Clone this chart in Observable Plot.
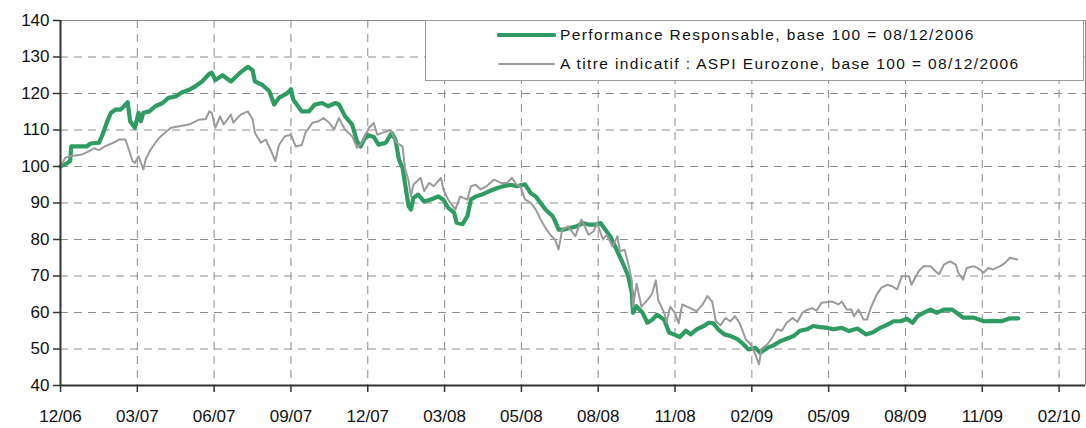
<!DOCTYPE html>
<html>
<head>
<meta charset="utf-8">
<script src="https://cdn.jsdelivr.net/npm/d3@7"></script>
<script src="https://cdn.jsdelivr.net/npm/@observablehq/plot@0.6"></script>
<style>
  html, body { margin: 0; padding: 0; background: #fff; }
  #wrap { position: relative; width: 1086px; height: 428px; font-family: "Liberation Sans", Arial, sans-serif; }
  #legend { position: absolute; left: 425px; top: 20px; width: 659px; height: 61px; background: #fff;
            border: 1px solid #9a9a9a; box-sizing: border-box; }
  .row { position: absolute; left: 71px; height: 20px; display: flex; align-items: center; font-size: 15.5px; color: #111; letter-spacing: 1.38px; white-space: nowrap; }
  .sw { width: 59px; margin-right: 4px; }
</style>
</head>
<body>
<div id="wrap"></div>
<script>
// x tick labels (one every 64 observations)
const tickLabels = ["12/06","03/07","06/07","09/07","12/07","03/08","05/08","08/08","11/08","02/09","05/09","08/09","11/09","02/10"];
const obsPerTick = 64;
const lastObs = 854;

// Performance Responsable, base 100 = 08/12/2006  (observation index, value)
const perfIdx = [0,6,8,9,22,25,32,35,39,42,46,50,53,56,58,62,65,67,69,74,79,85,90,96,101,107,112,118,124,126,129,135,142,149,156,160,162,168,174,178,182,189,192,194,201,207,212,218,223,229,232,237,243,247,250,255,261,265,271,276,279,282,285,287,290,292,294,298,303,308,315,319,323,328,330,335,339,342,346,351,357,364,369,375,380,387,392,396,400,404,410,412,415,419,425,430,435,440,446,450,454,458,462,468,473,476,477,480,485,489,493,497,503,507,511,516,521,525,530,536,540,544,548,553,558,564,569,573,579,583,589,594,600,605,611,616,622,627,633,639,644,651,657,664,671,677,683,689,694,700,705,710,714,719,725,730,736,743,748,752,761,769,777,784,791,798];
const perfVal = [100,101,101.5,105.5,105.5,106.3,106.5,108.7,112.4,114.7,115.6,115.6,116.5,117.6,112.4,110.6,114.7,112.4,114.7,115.1,116.5,117.4,118.8,119.2,120.3,121,121.9,123.3,125.4,125.7,123.7,125,123.3,125.5,127.3,126.4,123.3,122.4,120.6,117,118.8,120.1,121.2,118.3,115.1,115.1,117,117.4,116.5,117.4,117,113.8,111.5,106.9,105.5,108.7,108.1,106,106.5,109.2,107.4,101.9,99.6,95.5,89.1,88.2,91.4,92.3,90.4,90.9,91.8,90.9,88.7,87.3,84.6,84.2,86.4,91,91.8,92.3,93.2,94.1,94.6,95,94.6,95.1,92.6,91.8,90,88.2,86.4,85.1,82.7,82.7,83.2,83.6,84.5,84.1,84.1,84.5,82.7,80.9,78.1,73.9,70,65.4,59.9,61.7,59.9,57.2,58,59.4,58,54.5,54,53.3,55,54,55.4,56.3,57.2,57,55.4,54,53.6,52.7,51.3,49.9,50.3,49,50.3,51,52.2,52.8,53.6,55,55.4,56.3,56,55.8,55.4,55.8,54.9,55.6,54,54.6,55.8,56.7,57.6,57.6,58.3,57.2,59,59.9,60.8,59.9,60.8,60.8,59.6,58.6,58.6,57.6,57.7,57.6,58.4,58.4];

// A titre indicatif : ASPI Eurozone, base 100 = 08/12/2006
const aspiIdx = [0,4,8,12,18,24,28,32,37,44,49,54,57,60,62,65,69,71,75,81,85,92,99,107,115,121,124,126,129,133,136,142,144,150,156,160,162,167,171,175,179,182,187,192,196,201,204,210,215,219,224,228,232,237,243,247,251,257,261,264,268,275,280,285,287,290,292,294,300,303,307,311,317,319,323,329,333,339,342,346,350,355,361,367,372,376,380,383,387,392,396,400,404,408,412,415,418,423,429,434,440,444,447,452,455,460,464,466,470,473,476,477,480,484,489,493,496,498,503,505,508,512,515,518,522,526,530,535,539,543,546,550,554,558,562,566,571,575,579,582,584,589,593,597,601,605,610,614,618,622,626,630,634,643,648,651,655,659,661,665,669,672,675,680,684,689,693,697,701,707,709,715,719,725,729,732,736,741,746,748,752,755,761,766,769,773,777,783,787,791,797];
const aspiVal = [100,102.4,102.8,103,103.3,104.2,105,104.5,105.5,106.5,107.4,107.4,104.6,101.5,101,102.8,99.2,102,104.6,107.4,108.7,110.6,111,111.5,112.8,113,115.1,114.7,110.6,113.7,111.5,114.2,112,114.2,115.1,113,109.2,106.5,107.4,104.6,101.5,105.9,108.3,108.7,105.5,105.9,109.2,112,112.4,113.3,112,110.1,113.3,110.1,108.3,105.1,106.5,110.6,111.9,108.7,109.2,110,106.5,105.5,99.6,96,91.8,95,96.9,93.2,95.5,94.6,96.9,93.7,90.9,88.2,91.8,90.9,94.6,95,93.7,94.6,96.4,95.5,95.5,96.9,95,94.7,91,90,88.2,85.5,83.2,81.3,80,77.3,82.7,83.6,80.9,85.5,81.3,82.2,84.5,80,81.3,78.1,80.9,76.8,77.2,73.4,68.8,61.6,67.9,61.6,63.4,65.2,68.8,63.4,59.9,57.4,61.6,59.9,57,62.2,61.6,61,60.3,62.2,64.5,63,57.6,56.5,58.5,57.6,59,57,52.6,51.3,48.5,45.8,50,51.3,53.1,55.4,55,57.2,58.5,57.4,59.9,60.7,61.2,60.5,62.7,63,62.2,63,60.8,60.8,59,60.8,58.1,58.1,61.2,64.9,66.8,67.6,67.2,66.3,69.9,69.9,67.6,71.3,72.7,72.7,71.3,70.5,73.1,74,73.1,70.9,69,72.2,72.7,71.8,70.9,72.2,71.8,72.7,73.6,75,74.5];

const yTicks = [40,50,60,70,80,90,100,110,120,130,140];
const seriesNames = ["Performance Responsable, base 100 = 08/12/2006", "A titre indicatif : ASPI Eurozone, base 100 = 08/12/2006"];
const colors = ["#2e9b63", "#9a9a9a"];

const perf = perfIdx.map((x, i) => ({x, y: perfVal[i]}));
const aspi = aspiIdx.map((x, i) => ({x, y: aspiVal[i]}));
const xTicks = tickLabels.map((_, i) => i * obsPerTick);

const grid = {stroke: "#8c8c8c", strokeDasharray: "8,6", strokeWidth: 1, strokeOpacity: 1};

const chart = Plot.plot({
  width: 1086,
  height: 428,
  marginLeft: 60,
  marginTop: 20,
  marginBottom: 43,
  marginRight: 1,
  style: {fontFamily: "'Liberation Sans', Arial, sans-serif", fontSize: "17px", color: "#111", background: "transparent"},
  x: {domain: [0, lastObs], axis: null},
  y: {domain: [40, 140], axis: null},
  marks: [
    Plot.ruleY(yTicks.slice(1, -1), grid),
    Plot.ruleX(xTicks.slice(1), grid),
    Plot.ruleY([140], {stroke: "#8c8c8c", strokeWidth: 1}),
    Plot.ruleX([lastObs], {stroke: "#8c8c8c", strokeWidth: 1}),
    Plot.line(perf, {x: "x", y: "y", stroke: colors[0], strokeWidth: 4.2, strokeLinejoin: "round", strokeLinecap: "round"}),
    Plot.line(aspi, {x: "x", y: "y", stroke: colors[1], strokeWidth: 2, strokeLinejoin: "round"}),
    Plot.axisX({ticks: xTicks, tickFormat: d => tickLabels[Math.round(d / obsPerTick)], label: null, tickSize: 7, tickPadding: 17, stroke: "#333", strokeWidth: 1.5, fill: "#111", letterSpacing: 1.2}),
    Plot.axisY({ticks: yTicks, label: null, tickSize: 7, tickPadding: 4, stroke: "#333", strokeWidth: 1.5, fill: "#111", letterSpacing: 1.2}),
    Plot.ruleX([0], {stroke: "#333", strokeWidth: 2}),
    Plot.ruleY([40], {stroke: "#333", strokeWidth: 2})
  ]
});

const wrap = document.getElementById("wrap");
wrap.appendChild(chart);

const legend = document.createElement("div");
legend.id = "legend";
seriesNames.forEach((name, i) => {
  const row = document.createElement("div");
  row.className = "row";
  row.style.top = (i === 0 ? 4 : 33) + "px";
  const sw = document.createElementNS("http://www.w3.org/2000/svg", "svg");
  sw.setAttribute("class", "sw");
  sw.setAttribute("width", 59);
  sw.setAttribute("height", 8);
  const ln = document.createElementNS("http://www.w3.org/2000/svg", "line");
  ln.setAttribute("x1", 2); ln.setAttribute("x2", 57); ln.setAttribute("y1", 4); ln.setAttribute("y2", 4);
  ln.setAttribute("stroke", colors[i]);
  ln.setAttribute("stroke-width", i === 0 ? 4.2 : 2);
  ln.setAttribute("stroke-linecap", "round");
  sw.appendChild(ln);
  row.appendChild(sw);
  const t = document.createElement("span");
  t.textContent = name;
  row.appendChild(t);
  legend.appendChild(row);
});
wrap.appendChild(legend);
</script>
</body>
</html>
